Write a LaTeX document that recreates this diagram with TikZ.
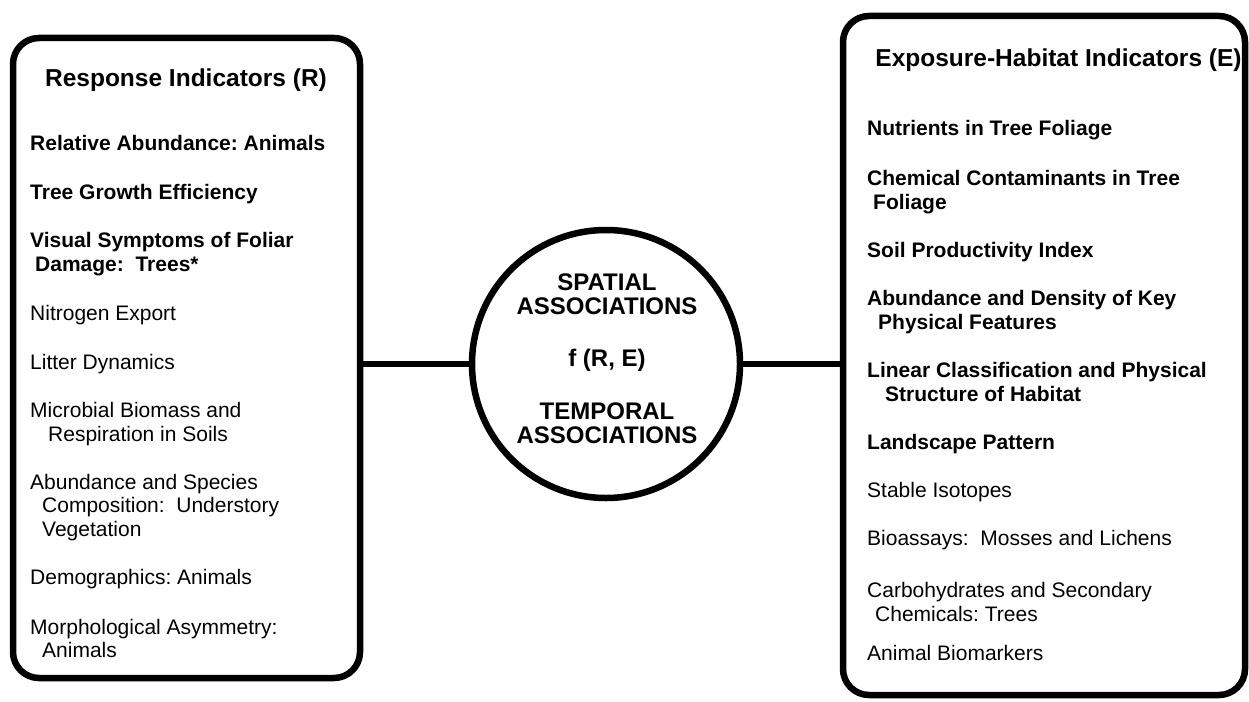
\documentclass[tikz,border=0pt]{standalone}
\usepackage{fontspec}
\setmainfont{Liberation Sans}
\frenchspacing
\begin{document}
\begin{tikzpicture}[x=1pt,y=-1pt,
  panel/.style={draw, line width=6.5pt, rounded corners=26pt, inner sep=0pt},
  hub/.style={circle, draw, line width=6.5pt, minimum size=268pt, inner sep=0pt},
  link/.style={line width=6.5pt},
  heading/.style={font=\fontsize{24.5}{28}\selectfont\bfseries, inner sep=0pt},
  itemb/.style={font=\fontsize{21}{23.5}\selectfont\bfseries, align=left, anchor=base west, inner sep=0pt},
  itemr/.style={font=\fontsize{21}{23.5}\selectfont, align=left, anchor=base west, inner sep=0pt},
  hubtext/.style={font=\fontsize{24}{27}\selectfont\bfseries, align=center, inner sep=0pt}]
\useasboundingbox (0,0) rectangle (1249,701);

% panels and central hub
\node[panel, minimum width=347pt, minimum height=640pt] (R) at (186.5,358) {};
\node[panel, minimum width=402pt, minimum height=679pt] (E) at (1044,355.5) {};
\node[hub] (hub) at (606,364) {};

% connectors
\draw[link] (hub.west) -- (hub.west -| R.east);
\draw[link] (hub.east) -- (hub.east -| E.west);

% hub text
\node[hubtext] (sp) at (607,294) {SPATIAL\\[-3pt]ASSOCIATIONS};
\node[hubtext] (fn) at (607,360) {f (R, E)};
\node[hubtext] (tp) at (607,423) {TEMPORAL\\[-3pt]ASSOCIATIONS};

% response indicators (anchored at the baseline of each item's last line)
\node[heading] (rt) at (186,80) {Response Indicators (R)};
\node[itemb] (r1) at (30,150.5) {Relative Abundance: Animals};
\node[itemb] (r2) at (30,199.5) {Tree Growth Efficiency};
\node[itemb] (r3) at (30,271) {Visual Symptoms of Foliar\\\hspace*{5pt}Damage:\ \ Trees*};
\node[itemr] (r4) at (30,320.5) {Nitrogen Export};
\node[itemr] (r5) at (30,369.5) {Litter Dynamics};
\node[itemr] (r6) at (30,441) {Microbial Biomass and\\\hspace*{18pt}Respiration in Soils};
\node[itemr] (r7) at (30,536) {Abundance and Species\\\hspace*{12pt}Composition:\ \ Understory\\\hspace*{12pt}Vegetation};
\node[itemr] (r8) at (30,584) {Demographics: Animals};
\node[itemr] (r9) at (30,657.5) {Morphological Asymmetry:\\\hspace*{12pt}Animals};

% exposure-habitat indicators
\node[heading] (et) at (1058.5,60) {Exposure-Habitat Indicators (E)};
\node[itemb] (e1) at (867,135.5) {Nutrients in Tree Foliage};
\node[itemb] (e2) at (867,209) {Chemical Contaminants in Tree\\\hspace*{6pt}Foliage};
\node[itemb] (e3) at (867,257.5) {Soil Productivity Index};
\node[itemb] (e4) at (867,329) {Abundance and Density of Key\\\hspace*{11pt}Physical Features};
\node[itemb] (e5) at (867,401) {Linear Classification and Physical\\\hspace*{18pt}Structure of Habitat};
\node[itemb] (e6) at (867,449.5) {Landscape Pattern};
\node[itemr] (e7) at (867,497.5) {Stable Isotopes};
\node[itemr] (e8) at (867,545.5) {Bioassays:\ \ Mosses and Lichens};
\node[itemr] (e9) at (867,621) {Carbohydrates and Secondary\\\hspace*{8pt}Chemicals: Trees};
\node[itemr] (e10) at (867,660.5) {Animal Biomarkers};
\end{tikzpicture}
\end{document}
